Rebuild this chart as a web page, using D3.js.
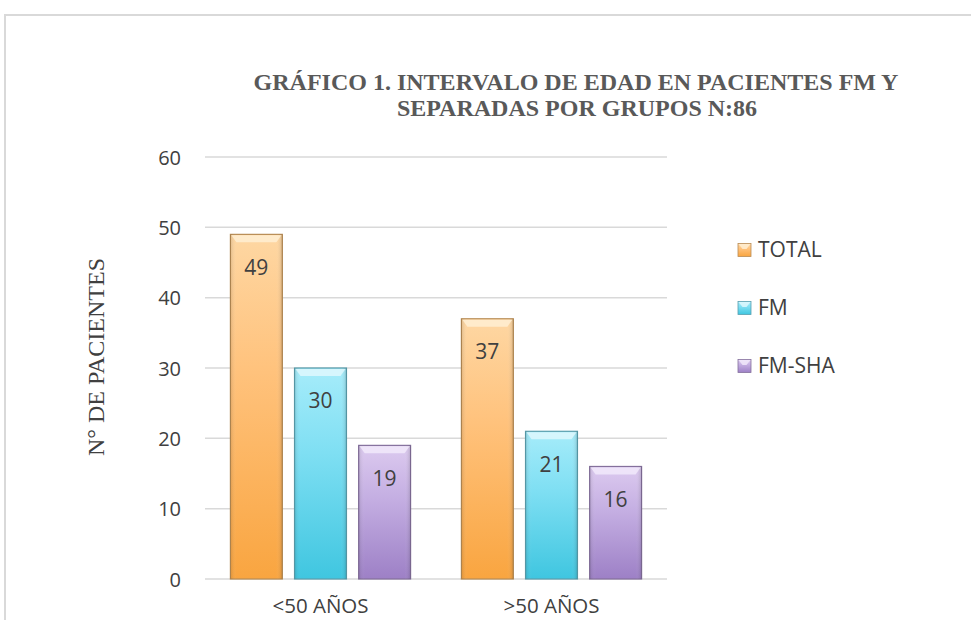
<!DOCTYPE html>
<html><head><meta charset="utf-8">
<script src="https://cdn.jsdelivr.net/npm/d3@7"></script>
<style>body{margin:0;background:#fff}svg{display:block}</style>
</head><body><svg id="c" width="971" height="620"></svg>
<script>
const categories = ["<50 AÑOS", ">50 AÑOS"];
const seriesNames = ["TOTAL", "FM", "FM-SHA"];
const TOTAL = [49, 37];
const FM = [30, 21];
const FM_SHA = [19, 16];
const yTicks = [0, 10, 20, 30, 40, 50, 60];
const titleLines = ["GRÁFICO 1. INTERVALO DE EDAD EN PACIENTES FM Y", "SEPARADAS POR GRUPOS N:86"];
const yTitle = "N° DE PACIENTES";
const seriesValues = [TOTAL, FM, FM_SHA];
const colors = [
  {top:"#fed7a3", mid:"#ffc27c", bot:"#f9a540", edge:"#b88c55", bevel:"#fff0d6"},
  {top:"#a6ecfa", mid:"#7fdff3", bot:"#3fc6e0", edge:"#5a9fae", bevel:"#e2f9fe"},
  {top:"#dccaef", mid:"#c4aee2", bot:"#9d80c6", edge:"#84709c", bevel:"#f2ebfb"}
];

const svg = d3.select("#c");
const defs = svg.append("defs");
colors.forEach((c,i)=>{
  const g = defs.append("linearGradient").attr("id","g"+i).attr("x1",0).attr("y1",0).attr("x2",0).attr("y2",1);
  g.append("stop").attr("offset","0%").attr("stop-color",c.top);
  g.append("stop").attr("offset","40%").attr("stop-color",c.mid);
  g.append("stop").attr("offset","100%").attr("stop-color",c.bot);
  const h = defs.append("linearGradient").attr("id","h"+i).attr("x1",0).attr("y1",0).attr("x2",1).attr("y2",0);
  h.append("stop").attr("offset","0%").attr("stop-color","#000").attr("stop-opacity",0.12);
  h.append("stop").attr("offset","12%").attr("stop-color","#fff").attr("stop-opacity",0.0);
  h.append("stop").attr("offset","88%").attr("stop-color","#fff").attr("stop-opacity",0.0);
  h.append("stop").attr("offset","100%").attr("stop-color","#000").attr("stop-opacity",0.15);
});

// outer border
svg.append("path").attr("d","M5,620 V15 H971").attr("fill","none").attr("stroke","#d9d9d9").attr("stroke-width",2);

const pLeft = 205, pRight = 667, pTop = 157, pBottom = 579;
const y = d3.scaleLinear().domain([0,60]).range([pBottom, pTop]);
const x0 = d3.scaleBand().domain(categories).range([pLeft, pRight]).paddingInner(0.22).paddingOuter(0.11);
const x1 = d3.scaleBand().domain(seriesNames).range([0, x0.bandwidth()]).paddingInner(0.19);

// grid
svg.append("g").selectAll("line").data(yTicks).join("line")
  .attr("x1",pLeft).attr("x2",pRight).attr("y1",d=>y(d)).attr("y2",d=>y(d))
  .attr("stroke","#d9d9d9").attr("stroke-width",1.5);

// y axis labels
const yAxis = d3.axisLeft(y).tickValues(yTicks).tickSize(0).tickPadding(0);
const ya = svg.append("g").attr("transform",`translate(181,0)`).call(yAxis);
ya.select(".domain").remove();
ya.selectAll("text").attr("font-family","'Open Sans', sans-serif").attr("font-size",20).attr("fill","#404040").attr("dy","0.35em");

// x axis labels
const xAxis = d3.axisBottom(x0).tickSize(0).tickPadding(0);
const xa = svg.append("g").attr("transform",`translate(0,${pBottom+19})`).call(xAxis);
xa.select(".domain").remove();
xa.selectAll("text").attr("font-family","'Open Sans', sans-serif").attr("font-size",20.5).attr("fill","#404040").attr("dy","0.71em");

// bars
const groups = svg.append("g").selectAll("g").data(categories).join("g")
  .attr("transform",d=>`translate(${x0(d)},0)`);
groups.each(function(cat, ci){
  const g = d3.select(this);
  seriesNames.forEach((s, si)=>{
    const v = seriesValues[si][ci];
    const bx = x1(s), bw = x1.bandwidth(), by = y(v), bh = pBottom - y(v);
    g.append("rect").attr("x",bx).attr("y",by).attr("width",bw).attr("height",bh)
      .attr("fill",`url(#g${si})`).attr("stroke",colors[si].edge).attr("stroke-width",1.2);
    g.append("rect").attr("x",bx).attr("y",by).attr("width",bw).attr("height",bh)
      .attr("fill",`url(#h${si})`);
    g.append("path").attr("d",`M${bx+1},${by+1} H${bx+bw-1} L${bx+bw-6},${by+8} H${bx+6} Z`)
      .attr("fill",colors[si].bevel).attr("opacity",0.8);
    g.append("text").attr("x",bx+bw/2).attr("y",by+33).attr("text-anchor","middle").attr("dy","0.35em")
      .attr("font-family","'Open Sans', sans-serif").attr("font-size",21).attr("fill","#404040").text(v);
  });
});

// title
const title = svg.append("text").attr("text-anchor","middle").attr("font-family","'Liberation Serif', 'Times New Roman', serif")
  .attr("font-weight","bold").attr("font-size",24).attr("fill","#595959");
title.append("tspan").attr("x",576).attr("y",90).text(titleLines[0]);
title.append("tspan").attr("x",577).attr("y",116).text(titleLines[1]);

// y axis title
svg.append("text").attr("transform","translate(96,357) rotate(-90)").attr("text-anchor","middle").attr("dy","0.35em")
  .attr("font-family","'Liberation Serif', 'Times New Roman', serif").attr("font-size",24).attr("fill","#404040")
  .text(yTitle);

// legend
const lg = svg.append("g").selectAll("g").data(seriesNames).join("g")
  .attr("transform",(d,i)=>`translate(738,${250+i*58})`);
lg.append("rect").attr("x",0).attr("y",-6.5).attr("width",13).attr("height",13)
  .attr("fill",(d,i)=>`url(#g${i})`).attr("stroke",(d,i)=>colors[i].edge).attr("stroke-width",0.8);
lg.append("path").attr("d","M0.5,-6 H12.5 L8.5,-1 H4.5 Z").attr("fill",(d,i)=>colors[i].bevel).attr("opacity",0.8);
lg.append("text").attr("x",20).attr("y",0).attr("dy","0.35em").attr("font-family","'Open Sans', sans-serif")
  .attr("font-size",21).attr("fill","#404040").text(d=>d);
</script></body></html>
